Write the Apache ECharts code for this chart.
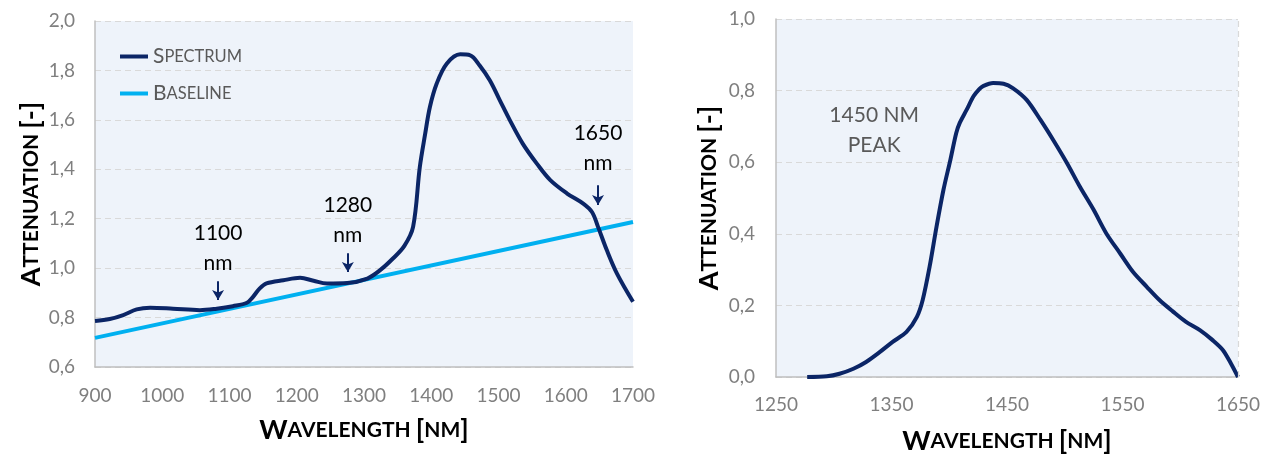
<!DOCTYPE html>
<html>
<head>
<meta charset="utf-8">
<script src="https://cdn.jsdelivr.net/npm/echarts@6/dist/echarts.min.js"></script>
<style>
  html, body { margin: 0; padding: 0; background: #fff; }
  #chart { width: 1270px; height: 457px; }
</style>
</head>
<body>
<div id="chart"></div>
<script>
// left panel: full spectrum + linear baseline
var spectrumNm = [900, 922, 942, 962, 982, 1016, 1056, 1081, 1105, 1126, 1135, 1145, 1155, 1180, 1205, 1225, 1245, 1275, 1305, 1324, 1343, 1360, 1373, 1383, 1391, 1398, 1408, 1423, 1443, 1458, 1472, 1487, 1502, 1517, 1536, 1557, 1577, 1602, 1626, 1639, 1648, 1661, 1676, 1700]
var spectrumVal = [0.786, 0.794, 0.81, 0.833, 0.84, 0.836, 0.83, 0.836, 0.846, 0.86, 0.884, 0.918, 0.938, 0.951, 0.961, 0.949, 0.938, 0.94, 0.958, 0.992, 1.039, 1.09, 1.167, 1.409, 1.544, 1.652, 1.746, 1.827, 1.865, 1.861, 1.82, 1.76, 1.679, 1.598, 1.504, 1.423, 1.356, 1.302, 1.261, 1.227, 1.167, 1.073, 0.979, 0.864]
var baselineNm = [900, 1700]
var baselineVal = [0.718, 1.187]

// arrows + notes on the left panel
var noteText = ['1100\nnm', '1280\nnm', '1650\nnm']
var noteNm = [1083, 1276, 1648]
var noteVal = [1.081, 1.192, 1.485]
var arrowTail = [0.947, 1.06, 1.335]
var arrowTip = [0.871, 0.984, 1.255]

// right panel: baseline-corrected 1450 nm peak
var peakNm = [1277, 1294, 1305, 1317, 1328, 1340, 1351, 1363, 1372, 1377, 1383, 1389, 1395, 1401, 1406, 1409, 1415, 1421, 1426, 1429, 1438, 1447, 1455, 1467, 1479, 1490, 1502, 1513, 1525, 1536, 1548, 1559, 1571, 1582, 1594, 1605, 1617, 1628, 1637, 1644, 1650]
var peakVal = [0.0, 0.002, 0.009, 0.023, 0.042, 0.07, 0.098, 0.126, 0.168, 0.215, 0.308, 0.42, 0.523, 0.607, 0.681, 0.709, 0.746, 0.784, 0.804, 0.812, 0.821, 0.819, 0.807, 0.774, 0.718, 0.662, 0.597, 0.532, 0.467, 0.401, 0.345, 0.294, 0.252, 0.215, 0.182, 0.154, 0.131, 0.103, 0.075, 0.037, 0.0]
var peakNote = '1450 NM\nPEAK'
var peakNoteNm = 1335
var peakNoteVal = 0.69

var navy = '#0b2566'
var cyan = '#00b0f0'
var fontFamily = 'Lato, "Open Sans", sans-serif'

function zip (xs, ys) {
    return xs.map(function (x, i) { return [x, ys[i]] })
}

function comma (v) {
    return v.toFixed(1).replace('.', ',')
}

function plain (v) {
    return String(v)
}

var smallCaps = {
    a: { fontSize: 27, fontWeight: 'bold', color: '#000', fontFamily: fontFamily },
    b: { fontSize: 21, fontWeight: 'bold', color: '#000', fontFamily: fontFamily }
}

function axisCommon () {
    return {
        type: 'value',
        axisLine: { show: true, lineStyle: { color: '#bfbfbf', width: 1.5 } },
        axisTick: { show: false },
        nameLocation: 'middle',
        nameTextStyle: { rich: smallCaps }
    }
}

var arrows = noteNm.map(function (x, i) {
    return [{ coord: [x, arrowTail[i]] }, { coord: [x, arrowTip[i]] }]
})
var notes = noteNm.map(function (x, i) {
    return { coord: [x, noteVal[i]], value: noteText[i] }
})

var xLeft = Object.assign(axisCommon(), {
    gridIndex: 0, min: 900, max: 1700, interval: 100,
    splitLine: { show: false },
    axisLabel: { color: '#7f7f7f', fontSize: 19, fontFamily: fontFamily, margin: 19, formatter: plain },
    name: '{a|W}{b|AVELENGTH }{a|[}{b|NM}{a|]}', nameGap: 50
})
var yLeft = Object.assign(axisCommon(), {
    gridIndex: 0, min: 0.6, max: 2.0, interval: 0.2,
    splitLine: { show: true, lineStyle: { color: '#d9d9d9', type: [6, 4], width: 1.2 } },
    axisLabel: { color: '#7f7f7f', fontSize: 19, fontFamily: fontFamily, margin: 20, formatter: comma },
    name: '{a|A}{b|TTENUATION }{a|[-]}', nameGap: 50
})
var xRight = Object.assign(axisCommon(), {
    gridIndex: 1, min: 1250, max: 1650, interval: 100,
    splitLine: { show: false },
    axisLabel: { color: '#7f7f7f', fontSize: 19, fontFamily: fontFamily, margin: 18, formatter: plain },
    name: '{a|W}{b|AVELENGTH }{a|[}{b|NM}{a|]}', nameGap: 51
})
var yRight = Object.assign(axisCommon(), {
    gridIndex: 1, min: 0, max: 1.0, interval: 0.2,
    splitLine: { show: true, lineStyle: { color: '#d9d9d9', type: [6, 4], width: 1.2 } },
    axisLabel: { color: '#7f7f7f', fontSize: 19, fontFamily: fontFamily, margin: 21, formatter: comma },
    name: '{a|A}{b|TTENUATION }{a|[-]}', nameGap: 53
})

var option = {
    animation: false,
    backgroundColor: '#fff',
    textStyle: { fontFamily: fontFamily },
    grid: [
        { left: 95, right: 637, top: 21, bottom: 90, show: true, backgroundColor: '#eef3fa', borderWidth: 0, outerBoundsMode: 'none' },
        { left: 776, right: 32, top: 19, bottom: 80, show: true, backgroundColor: '#eef3fa', borderWidth: 0, outerBoundsMode: 'none' }
    ],
    legend: {
        data: [
            { name: 'Spectrum', icon: 'rect', itemStyle: { color: navy } },
            { name: 'Baseline', icon: 'rect', itemStyle: { color: cyan } }
        ],
        orient: 'vertical',
        left: 115, top: 41,
        itemWidth: 28, itemHeight: 4, itemGap: 16,
        formatter: function (name) {
            return '{a|' + name.charAt(0) + '}{b|' + name.slice(1).toUpperCase() + '}'
        },
        textStyle: {
            rich: {
                a: { fontSize: 21, color: '#595959', fontFamily: fontFamily },
                b: { fontSize: 16.5, color: '#595959', fontFamily: fontFamily }
            }
        }
    },
    xAxis: [xLeft, xRight],
    yAxis: [yLeft, yRight],
    series: [
        {
            name: 'Spectrum', type: 'line', xAxisIndex: 0, yAxisIndex: 0,
            data: zip(spectrumNm, spectrumVal),
            symbol: 'none', smooth: 0.35, z: 3,
            lineStyle: { color: navy, width: 4 },
            itemStyle: { color: navy },
            markLine: {
                silent: true, symbol: ['none', 'arrow'], symbolSize: [9, 10],
                label: { show: false },
                lineStyle: { color: navy, width: 2, type: 'solid' },
                data: arrows
            },
            markPoint: {
                silent: true, symbol: 'circle', symbolSize: 1,
                itemStyle: { color: 'transparent' },
                label: {
                    show: true, position: 'inside', formatter: function (p) { return p.value },
                    color: '#000', fontSize: 21, lineHeight: 30, fontFamily: fontFamily
                },
                data: notes
            }
        },
        {
            name: 'Baseline', type: 'line', xAxisIndex: 0, yAxisIndex: 0,
            data: zip(baselineNm, baselineVal),
            symbol: 'none', z: 2,
            lineStyle: { color: cyan, width: 4 },
            itemStyle: { color: cyan }
        },
        {
            name: '1450 nm peak', type: 'line', xAxisIndex: 1, yAxisIndex: 1,
            data: zip(peakNm, peakVal),
            symbol: 'none', smooth: 0.3,
            lineStyle: { color: navy, width: 4 },
            itemStyle: { color: navy },
            markLine: {
                silent: true, symbol: 'none', label: { show: false },
                lineStyle: { color: '#d9d9d9', type: [6, 4], width: 1.2 },
                data: [{ xAxis: 1650 }]
            },
            markPoint: {
                silent: true, symbol: 'circle', symbolSize: 1,
                itemStyle: { color: 'transparent' },
                label: {
                    show: true, position: 'inside', formatter: function (p) { return p.value },
                    color: '#595959', fontSize: 21, lineHeight: 30, fontFamily: fontFamily
                },
                data: [{ coord: [peakNoteNm, peakNoteVal], value: peakNote }]
            }
        }
    ]
}

var chart = echarts.init(document.getElementById('chart'))
chart.setOption(option)
window.addEventListener('resize', function () { chart.resize() })
</script>
</body>
</html>
